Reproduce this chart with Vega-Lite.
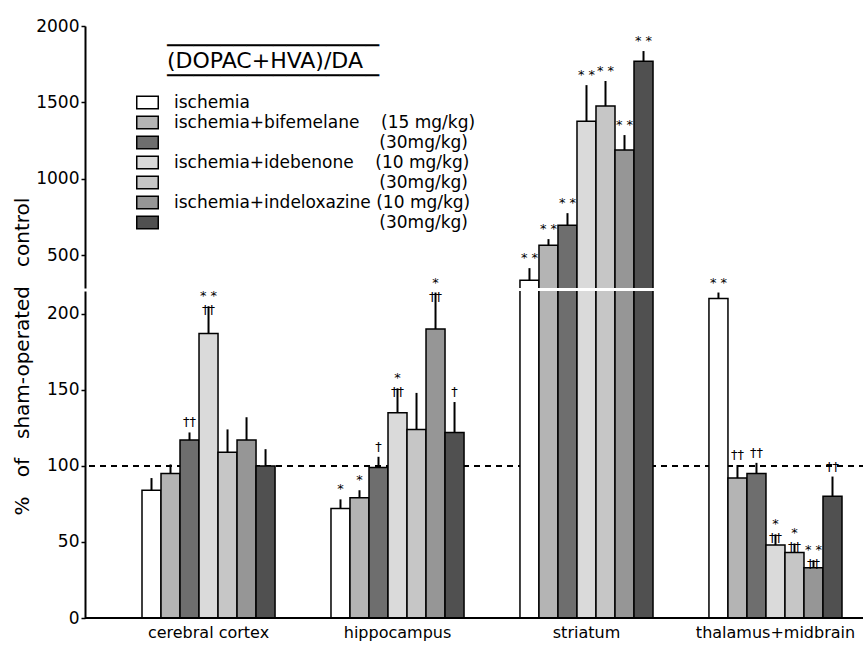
{
  "$schema": "https://vega.github.io/schema/vega-lite/v6.json",
  "padding": {"left": 11, "top": 17, "right": 0, "bottom": 5},
  "bounds": "flush",
  "config": {
    "font": "DejaVu Sans",
    "view": {"stroke": null},
    "axis": {"domainColor": "black", "tickColor": "black", "labelColor": "black", "titleColor": "black", "grid": false},
    "legend": {"padding": 0}
  },
  "data": {"values": [
    {"region": "cerebral cortex", "treatment": "isch", "value": 84, "err": 92, "ann": ""},
    {"region": "cerebral cortex", "treatment": "bif15", "value": 95, "err": 101, "ann": ""},
    {"region": "cerebral cortex", "treatment": "bif30", "value": 117, "err": 122, "ann": "††"},
    {"region": "cerebral cortex", "treatment": "ide10", "value": 187, "err": 205, "ann": "* *\n††"},
    {"region": "cerebral cortex", "treatment": "ide30", "value": 109, "err": 124, "ann": ""},
    {"region": "cerebral cortex", "treatment": "ind10", "value": 117, "err": 132, "ann": ""},
    {"region": "cerebral cortex", "treatment": "ind30", "value": 100, "err": 111, "ann": ""},
    {"region": "hippocampus", "treatment": "isch", "value": 72, "err": 78, "ann": "*"},
    {"region": "hippocampus", "treatment": "bif15", "value": 79, "err": 84, "ann": "*"},
    {"region": "hippocampus", "treatment": "bif30", "value": 99, "err": 106, "ann": "†"},
    {"region": "hippocampus", "treatment": "ide10", "value": 135, "err": 151, "ann": "*\n††"},
    {"region": "hippocampus", "treatment": "ide30", "value": 124, "err": 148, "ann": ""},
    {"region": "hippocampus", "treatment": "ind10", "value": 190, "err": 214, "ann": "*\n††"},
    {"region": "hippocampus", "treatment": "ind30", "value": 122, "err": 142, "ann": "†"},
    {"region": "striatum", "treatment": "isch", "value": 335, "err": 415, "ann": "* *"},
    {"region": "striatum", "treatment": "bif15", "value": 565, "err": 605, "ann": "* *"},
    {"region": "striatum", "treatment": "bif30", "value": 696, "err": 775, "ann": "* *"},
    {"region": "striatum", "treatment": "ide10", "value": 1377, "err": 1613, "ann": "* *"},
    {"region": "striatum", "treatment": "ide30", "value": 1476, "err": 1640, "ann": "* *"},
    {"region": "striatum", "treatment": "ind10", "value": 1188, "err": 1286, "ann": "* *"},
    {"region": "striatum", "treatment": "ind30", "value": 1770, "err": 1836, "ann": "* *"},
    {"region": "thalamus+midbrain", "treatment": "isch", "value": 210, "err": 214, "ann": "* *"},
    {"region": "thalamus+midbrain", "treatment": "bif15", "value": 92, "err": 100.6, "ann": "††"},
    {"region": "thalamus+midbrain", "treatment": "bif30", "value": 95, "err": 102, "ann": "††"},
    {"region": "thalamus+midbrain", "treatment": "ide10", "value": 48, "err": 55, "ann": "*\n††"},
    {"region": "thalamus+midbrain", "treatment": "ide30", "value": 43, "err": 49, "ann": "*\n††"},
    {"region": "thalamus+midbrain", "treatment": "ind10", "value": 33, "err": 38, "ann": "* *\n††"},
    {"region": "thalamus+midbrain", "treatment": "ind30", "value": 80, "err": 93, "ann": "††"}
  ]},
  "spacing": 3,
  "resolve": {"scale": {"y": "independent"}, "axis": {"y": "independent"}},
  "vconcat": [
    {
      "width": 780,
      "height": 262,
      "transform": [{"filter": "datum.region === 'striatum'"}],
      "layer": [
        {
          "mark": {"type": "bar", "clip": true, "stroke": "black", "strokeWidth": 1.5},
          "encoding": {
            "x": {"field": "region", "type": "nominal", "sort": ["cerebral cortex", "hippocampus", "striatum", "thalamus+midbrain"],
                  "scale": {"domain": ["cerebral cortex", "hippocampus", "striatum", "thalamus+midbrain"], "range": [57, 757], "paddingInner": 0.296, "paddingOuter": 0},
                  "axis": null},
            "xOffset": {"field": "treatment", "type": "nominal", "scale": {"domain": ["isch", "bif15", "bif30", "ide10", "ide30", "ind10", "ind30"], "paddingInner": 0, "paddingOuter": 0}},
            "y": {"field": "value", "type": "quantitative",
                  "scale": {"domain": [285, 2000], "nice": false, "zero": false},
                  "axis": {"title": null, "values": [500, 1000, 1500, 2000], "format": "d", "labelFontSize": 17, "tickSize": 4, "domainWidth": 2, "tickWidth": 1.5, "labelPadding": 2}},
            "fill": {"field": "treatment", "type": "nominal",
                     "scale": {"domain": ["isch", "bif15", "bif30", "ide10", "ide30", "ind10", "ind30"],
                               "range": ["#ffffff", "#b4b4b4", "#6e6e6e", "#dadada", "#c6c6c6", "#969696", "#505050"]},
                     "legend": {
                       "title": ["\u200b\u00a0\u00a0\u00a0\u00a0────────────────", "\u200b\u00a0\u00a0\u00a0\u00a0(DOPAC+HVA)/DA", "\u200b\u00a0\u00a0\u00a0\u00a0────────────────"],
                       "orient": "none", "legendX": 54, "legendY": 10,
                       "titleFontSize": 22, "titleFontWeight": "normal", "titleLineHeight": 15, "titleAnchor": "start", "titlePadding": 6, "titleColor": "black", "titleLimit": 600,
                       "labelFontSize": 17, "labelLimit": 700, "labelColor": "black", "labelOffset": 18,
                       "labelExpr": "datum.label == 'isch' ? 'ischemia' : datum.label == 'bif15' ? 'ischemia+bifemelane\u00a0\u00a0\u00a0\u00a0(15 mg/kg)' : datum.label == 'bif30' ? '\u200b\u00a0\u00a0\u00a0\u00a0\u00a0\u00a0\u00a0\u00a0\u00a0\u00a0\u00a0\u00a0\u00a0\u00a0\u00a0\u00a0\u00a0\u00a0\u00a0\u00a0\u00a0\u00a0\u00a0\u00a0\u00a0\u00a0\u00a0\u00a0\u00a0\u00a0\u00a0\u00a0\u00a0\u00a0\u00a0\u00a0\u00a0\u00a0(30mg/kg)' : datum.label == 'ide10' ? 'ischemia+idebenone\u00a0\u00a0\u00a0\u00a0(10 mg/kg)' : datum.label == 'ide30' ? '\u200b\u00a0\u00a0\u00a0\u00a0\u00a0\u00a0\u00a0\u00a0\u00a0\u00a0\u00a0\u00a0\u00a0\u00a0\u00a0\u00a0\u00a0\u00a0\u00a0\u00a0\u00a0\u00a0\u00a0\u00a0\u00a0\u00a0\u00a0\u00a0\u00a0\u00a0\u00a0\u00a0\u00a0\u00a0\u00a0\u00a0\u00a0\u00a0(30mg/kg)' : datum.label == 'ind10' ? 'ischemia+indeloxazine\u00a0(10 mg/kg)' : '\u200b\u00a0\u00a0\u00a0\u00a0\u00a0\u00a0\u00a0\u00a0\u00a0\u00a0\u00a0\u00a0\u00a0\u00a0\u00a0\u00a0\u00a0\u00a0\u00a0\u00a0\u00a0\u00a0\u00a0\u00a0\u00a0\u00a0\u00a0\u00a0\u00a0\u00a0\u00a0\u00a0\u00a0\u00a0\u00a0\u00a0\u00a0\u00a0(30mg/kg)'",
                       "symbolType": "M-1.7,-1L1.7,-1L1.7,1L-1.7,1Z", "symbolSize": 160, "symbolStrokeColor": "black", "symbolStrokeWidth": 1.5, "rowPadding": 1
                     }}
          }
        },
        {
          "mark": {"type": "rule", "clip": true, "strokeWidth": 2, "color": "black"},
          "encoding": {
            "x": {"field": "region", "type": "nominal"},
            "xOffset": {"field": "treatment", "type": "nominal"},
            "y": {"field": "value", "type": "quantitative"},
            "y2": {"field": "err"}
          }
        },
        {
          "mark": {"type": "text", "baseline": "bottom", "dy": -3, "lineBreak": "\n", "lineHeight": 14, "fontSize": 13, "color": "black"},
          "encoding": {
            "x": {"field": "region", "type": "nominal"},
            "xOffset": {"field": "treatment", "type": "nominal"},
            "y": {"field": "err", "type": "quantitative"},
            "text": {"field": "ann"}
          }
        }
      ]
    },
    {
      "width": 780,
      "height": 327,
      "layer": [
        {
          "mark": {"type": "rule", "strokeDash": [6, 5], "strokeWidth": 1.5, "color": "black"},
          "encoding": {"y": {"datum": 100, "type": "quantitative"}}
        },
        {
          "mark": {"type": "bar", "clip": true, "stroke": "black", "strokeWidth": 1.5},
          "encoding": {
            "x": {"field": "region", "type": "nominal", "sort": ["cerebral cortex", "hippocampus", "striatum", "thalamus+midbrain"],
                  "scale": {"domain": ["cerebral cortex", "hippocampus", "striatum", "thalamus+midbrain"], "range": [57, 757], "paddingInner": 0.296, "paddingOuter": 0},
                  "axis": {"title": null, "domain": false, "ticks": false, "labelFontSize": 16, "labelPadding": 6, "labelAngle": 0, "labelColor": "black"}},
            "xOffset": {"field": "treatment", "type": "nominal", "scale": {"domain": ["isch", "bif15", "bif30", "ide10", "ide30", "ind10", "ind30"], "paddingInner": 0, "paddingOuter": 0}},
            "y": {"field": "value", "type": "quantitative",
                  "scale": {"domain": [0, 215], "nice": false},
                  "axis": {"title": "%\u00a0\u00a0\u00a0of\u00a0\u00a0\u00a0sham-operated\u00a0\u00a0\u00a0control", "values": [0, 50, 100, 150, 200], "format": "d", "labelFontSize": 17, "tickSize": 4, "domainWidth": 2, "tickWidth": 1.5, "labelPadding": 2,
                           "titleFontSize": 20, "titleFontWeight": "normal", "titleX": -63, "titleY": 65, "titleAlign": "center", "titleBaseline": "middle", "titleLimit": 600}},
            "fill": {"field": "treatment", "type": "nominal",
                     "legend": {
                       "title": ["\u200b\u00a0\u00a0\u00a0\u00a0────────────────", "\u200b\u00a0\u00a0\u00a0\u00a0(DOPAC+HVA)/DA", "\u200b\u00a0\u00a0\u00a0\u00a0────────────────"],
                       "orient": "none", "legendX": 54, "legendY": 10,
                       "titleFontSize": 22, "titleFontWeight": "normal", "titleLineHeight": 15, "titleAnchor": "start", "titlePadding": 6, "titleColor": "black", "titleLimit": 600,
                       "labelFontSize": 17, "labelLimit": 700, "labelColor": "black", "labelOffset": 18,
                       "labelExpr": "datum.label == 'isch' ? 'ischemia' : datum.label == 'bif15' ? 'ischemia+bifemelane\u00a0\u00a0\u00a0\u00a0(15 mg/kg)' : datum.label == 'bif30' ? '\u200b\u00a0\u00a0\u00a0\u00a0\u00a0\u00a0\u00a0\u00a0\u00a0\u00a0\u00a0\u00a0\u00a0\u00a0\u00a0\u00a0\u00a0\u00a0\u00a0\u00a0\u00a0\u00a0\u00a0\u00a0\u00a0\u00a0\u00a0\u00a0\u00a0\u00a0\u00a0\u00a0\u00a0\u00a0\u00a0\u00a0\u00a0\u00a0(30mg/kg)' : datum.label == 'ide10' ? 'ischemia+idebenone\u00a0\u00a0\u00a0\u00a0(10 mg/kg)' : datum.label == 'ide30' ? '\u200b\u00a0\u00a0\u00a0\u00a0\u00a0\u00a0\u00a0\u00a0\u00a0\u00a0\u00a0\u00a0\u00a0\u00a0\u00a0\u00a0\u00a0\u00a0\u00a0\u00a0\u00a0\u00a0\u00a0\u00a0\u00a0\u00a0\u00a0\u00a0\u00a0\u00a0\u00a0\u00a0\u00a0\u00a0\u00a0\u00a0\u00a0\u00a0(30mg/kg)' : datum.label == 'ind10' ? 'ischemia+indeloxazine\u00a0(10 mg/kg)' : '\u200b\u00a0\u00a0\u00a0\u00a0\u00a0\u00a0\u00a0\u00a0\u00a0\u00a0\u00a0\u00a0\u00a0\u00a0\u00a0\u00a0\u00a0\u00a0\u00a0\u00a0\u00a0\u00a0\u00a0\u00a0\u00a0\u00a0\u00a0\u00a0\u00a0\u00a0\u00a0\u00a0\u00a0\u00a0\u00a0\u00a0\u00a0\u00a0(30mg/kg)'",
                       "symbolType": "M-1.7,-1L1.7,-1L1.7,1L-1.7,1Z", "symbolSize": 160, "symbolStrokeColor": "black", "symbolStrokeWidth": 1.5, "rowPadding": 1
                     }}
          }
        },
        {
          "transform": [{"filter": "datum.region !== 'striatum'"}],
          "mark": {"type": "rule", "strokeWidth": 2, "color": "black"},
          "encoding": {
            "x": {"field": "region", "type": "nominal"},
            "xOffset": {"field": "treatment", "type": "nominal"},
            "y": {"field": "value", "type": "quantitative"},
            "y2": {"field": "err"}
          }
        },
        {
          "transform": [{"filter": "datum.region !== 'striatum'"}],
          "mark": {"type": "text", "baseline": "bottom", "dy": -3, "lineBreak": "\n", "lineHeight": 14, "fontSize": 13, "color": "black"},
          "encoding": {
            "x": {"field": "region", "type": "nominal"},
            "xOffset": {"field": "treatment", "type": "nominal"},
            "y": {"field": "err", "type": "quantitative"},
            "text": {"field": "ann"}
          }
        },
        {
          "mark": {"type": "rule", "strokeWidth": 2, "color": "black"},
          "encoding": {"y": {"datum": 0, "type": "quantitative"}}
        }
      ]
    }
  ]
}
